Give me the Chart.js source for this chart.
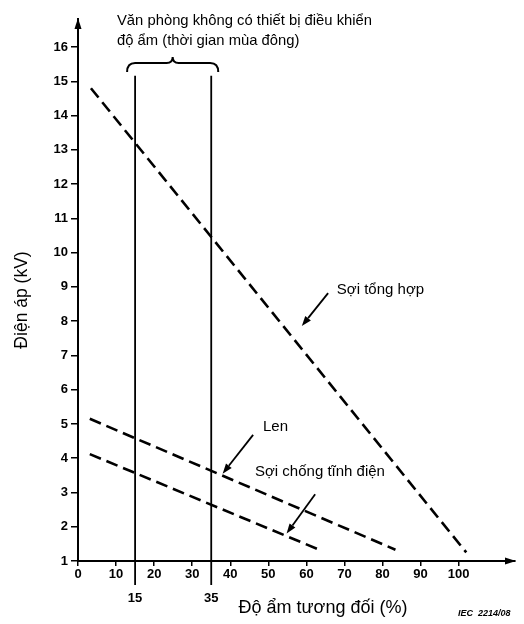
<!DOCTYPE html>
<html>
<head>
<meta charset="utf-8">
<script src="https://cdn.jsdelivr.net/npm/chart.js@4/dist/chart.umd.min.js"></script>
<style>
  html, body { margin: 0; padding: 0; background: #fff; }
  canvas { display: block; }
</style>
</head>
<body>
<canvas id="c" width="524" height="624"></canvas>
<script>
// Relative humidity (%) and body voltage (kV) at the ends of each dashed line
const syntheticHumidity = [3.4, 102];
const syntheticVoltage  = [14.8, 1.25];
const woolHumidity      = [3.1, 83.4];
const woolVoltage       = [5.15, 1.33];
const antistaticHumidity = [3.1, 64];
const antistaticVoltage  = [4.12, 1.3];

// Office without humidity control (winter): humidity band limits
const winterBand = [15, 35];

// Axis ticks
const xTicks = [0, 10, 20, 30, 40, 50, 60, 70, 80, 90, 100];
const yTicks = [1, 2, 3, 4, 5, 6, 7, 8, 9, 10, 11, 12, 13, 14, 15, 16];

// Series names and label anchors (humidity, voltage)
const seriesNames = ['Sợi tổng hợp', 'Len', 'Sợi chống tĩnh điện'];
const labelAnchors = [[68.0, 8.91], [48.6, 4.91], [46.5, 3.6]];
const arrowStarts  = [[65.7, 8.82], [46.0, 4.68], [62.3, 2.95]];
const arrowTips    = [[58.8, 7.86], [38.0, 3.55], [54.8, 1.8]];

const topNote = ['Văn phòng không có thiết bị điều khiển', 'độ ẩm (thời gian mùa đông)'];
const xTitle = 'Độ ẩm tương đối (%)';
const yTitle = 'Điện áp (kV)';
const figureRef = 'IEC  2214/08';

const FONT = '"Liberation Sans", Arial, Helvetica, sans-serif';
Chart.defaults.font.family = FONT;
Chart.defaults.color = '#000';

const pts = (xs, ys) => xs.map((x, i) => ({ x, y: ys[i] }));

const dashed = (xs, ys) => ({
  data: pts(xs, ys),
  borderColor: '#000',
  borderWidth: 2.6,
  borderDash: [12, 6],
  pointRadius: 0,
  fill: false,
  tension: 0
});

// the band lines run from the brace down past the humidity axis
const bandLine = (h) => ({
  data: [{ x: h, y: 15.16 }, { x: h, y: 0.3 }],
  borderColor: '#000',
  borderWidth: 1.8,
  pointRadius: 0,
  fill: false,
  clip: false
});

function arrow(ctx, x1, y1, x2, y2) {
  const a = Math.atan2(y2 - y1, x2 - x1);
  const len = 10, half = 3.6;
  const bx = x2 - len * Math.cos(a), by = y2 - len * Math.sin(a);
  ctx.beginPath();
  ctx.moveTo(x1, y1);
  ctx.lineTo(bx, by);
  ctx.lineWidth = 1.8;
  ctx.stroke();
  ctx.beginPath();
  ctx.moveTo(x2, y2);
  ctx.lineTo(bx + half * Math.sin(a), by - half * Math.cos(a));
  ctx.lineTo(bx - half * Math.sin(a), by + half * Math.cos(a));
  ctx.closePath();
  ctx.fill();
}

const annotations = {
  id: 'annotations',
  afterDraw(chart) {
    const { ctx, chartArea: area, scales: { x, y } } = chart;
    ctx.save();
    ctx.strokeStyle = '#000';
    ctx.fillStyle = '#000';

    // axis arrowheads
    ctx.beginPath();
    ctx.moveTo(area.left, area.top - 1);
    ctx.lineTo(area.left - 3.5, area.top + 10);
    ctx.lineTo(area.left + 3.5, area.top + 10);
    ctx.closePath();
    ctx.fill();
    ctx.beginPath();
    ctx.moveTo(area.right + 1, area.bottom);
    ctx.lineTo(area.right - 10, area.bottom - 3.5);
    ctx.lineTo(area.right - 10, area.bottom + 3.5);
    ctx.closePath();
    ctx.fill();

    // brace over the winter humidity band
    const xl = x.getPixelForValue(winterBand[0]) - 8;
    const xr = x.getPixelForValue(winterBand[1]) + 7;
    const xm = (xl + xr) / 2;
    const yb = 63;
    ctx.beginPath();
    ctx.moveTo(xl, yb + 9);
    ctx.quadraticCurveTo(xl, yb, xl + 8, yb);
    ctx.lineTo(xm - 6, yb);
    ctx.quadraticCurveTo(xm, yb, xm, yb - 6);
    ctx.quadraticCurveTo(xm, yb, xm + 6, yb);
    ctx.lineTo(xr - 8, yb);
    ctx.quadraticCurveTo(xr, yb, xr, yb + 9);
    ctx.lineWidth = 2;
    ctx.stroke();

    // band limit values under the axis
    ctx.font = 'bold 13px ' + FONT;
    ctx.textAlign = 'center';
    ctx.textBaseline = 'middle';
    winterBand.forEach(h => ctx.fillText(String(h), x.getPixelForValue(h), 598));

    // note above the band
    ctx.font = '14.8px ' + FONT;
    ctx.textAlign = 'left';
    ctx.fillText(topNote[0], 117, 21);
    ctx.fillText(topNote[1], 117, 41);

    // series labels and pointers
    ctx.font = '15px ' + FONT;
    seriesNames.forEach((name, i) => {
      ctx.fillText(name, x.getPixelForValue(labelAnchors[i][0]), y.getPixelForValue(labelAnchors[i][1]));
      arrow(ctx,
        x.getPixelForValue(arrowStarts[i][0]), y.getPixelForValue(arrowStarts[i][1]),
        x.getPixelForValue(arrowTips[i][0]), y.getPixelForValue(arrowTips[i][1]));
    });

    // axis titles
    ctx.font = '18px ' + FONT;
    ctx.textAlign = 'center';
    ctx.fillText(xTitle, 323, 608);
    ctx.save();
    ctx.translate(22, 300);
    ctx.rotate(-Math.PI / 2);
    ctx.font = '17.5px ' + FONT;
    ctx.fillText(yTitle, 0, 0);
    ctx.restore();

    // figure reference
    ctx.font = 'italic bold 9px ' + FONT;
    ctx.textAlign = 'left';
    ctx.fillText(figureRef, 458, 614);

    ctx.restore();
  }
};

new Chart(document.getElementById('c'), {
  type: 'line',
  data: {
    datasets: [
      dashed(syntheticHumidity, syntheticVoltage),
      dashed(woolHumidity, woolVoltage),
      dashed(antistaticHumidity, antistaticVoltage),
      bandLine(winterBand[0]),
      bandLine(winterBand[1])
    ]
  },
  options: {
    responsive: false,
    animation: false,
    devicePixelRatio: 1,
    layout: { padding: { top: 19, right: 9, left: 0, bottom: 0 } },
    plugins: { legend: { display: false }, tooltip: { enabled: false } },
    scales: {
      x: {
        type: 'linear',
        min: 0,
        max: 114.8,
        afterBuildTicks: s => { s.ticks = xTicks.map(v => ({ value: v })); },
        afterFit: s => { s.height = 63; },
        grid: { drawOnChartArea: false, color: '#000', lineWidth: 1.5, tickLength: 5 },
        border: { display: true, color: '#000', width: 2 },
        ticks: { font: { size: 13, weight: 'bold' }, padding: 1, maxRotation: 0, autoSkip: false }
      },
      y: {
        type: 'linear',
        min: 1,
        max: 16.82,
        afterBuildTicks: s => { s.ticks = yTicks.map(v => ({ value: v })); },
        afterFit: s => { s.width = 78; },
        grid: { drawOnChartArea: false, color: '#000', lineWidth: 1.5, tickLength: 7 },
        border: { display: true, color: '#000', width: 2 },
        ticks: { font: { size: 13, weight: 'bold' }, padding: 3, autoSkip: false }
      }
    }
  },
  plugins: [annotations]
});
</script>
</body>
</html>
